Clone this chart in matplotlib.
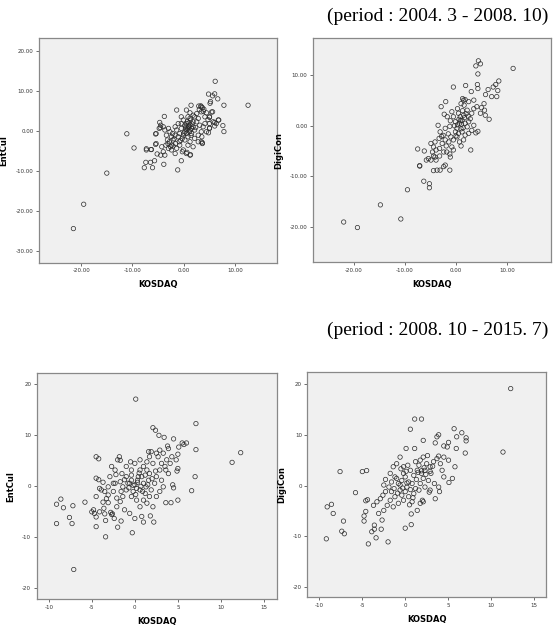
import numpy as np
import matplotlib
matplotlib.use('Agg')
import matplotlib.pyplot as plt
from matplotlib.ticker import FormatStrFormatter

# (KOSDAQ, EntCul) 2004.3 - 2008.10
p1_pts = [(-21.5, -24.5), (-19.5, -18.4), (-15.0, -10.6), (-11.1, -0.75), (-9.7, -4.3),
          (-7.3, -4.5), (-7.3, -4.8), (-7.7, -9.25), (-7.4, -7.9), (-6.5, -7.9), (-6.1, -9.25),
          (-5.7, -7.5), (-5.5, -3.4), (-5.5, -0.8), (-6.4, -4.7), (-4.7, 2.1), (-4.6, 0.8),
          (-3.8, 3.6), (-3.9, -8.4), (-5.2, -5.8), (-1.2, -9.8), (-0.5, -7.5), (-1.4, 5.2),
          (1.4, 6.4), (6.1, 12.4), (6.0, 9.25), (4.8, 9.2), (6.6, 8.0), (5.2, 7.3), (5.6, 8.75),
          (5.1, 6.9), (12.5, 6.4), (7.8, 6.4), (7.6, 1.3), (7.8, -0.2), (6.7, 2.7), (6.0, 2.1),
          (5.4, 4.7), (5.0, 3.4), (3.8, 4.9), (2.9, 6.2), (3.4, 6.0), (5.0, 0.7), (4.8, -0.5),
          (3.5, -1.5), (3.6, -3.0), (1.3, -6.0), (0.6, -5.4), (-0.3, -5.25),
          (3.3, 6.25), (3.6, 5.8), (3.0, 5.3), (3.4, 4.75), (3.9, 5.4), (4.4, 4.5), (5.6, 4.75),
          (5.0, 3.5), (4.7, 2.8), (5.7, 2.25), (6.3, 1.8), (6.8, 2.7), (6.0, 1.2), (5.0, 0.6),
          (4.4, -0.25), (0.5, 5.2), (1.2, 4.5), (1.8, 3.9), (0.8, 3.5), (-0.1, 2.7), (-0.5, 1.8),
          (0.5, 1.8), (1.2, 1.4), (1.8, 1.0), (2.5, 2.25), (2.8, 3.1), (2.1, 0.2), (1.5, -0.7),
          (0.8, -1.5), (0.2, -2.3), (1.2, -2.75), (2.1, -1.9), (2.8, -1.1), (3.4, -0.25),
          (3.75, 1.0), (3.1, 1.4), (1.8, 2.25), (1.2, 3.1), (-4.5, 1.4), (-4.0, 1.0), (-4.8, 0.6),
          (-3.7, 0.2), (-3.0, 0.6), (-2.7, -0.25), (-3.4, -1.1), (-2.4, -1.5), (-2.1, -2.3),
          (-2.8, -2.75), (-3.5, -3.6), (-4.3, -4.0), (-4.0, -5.25), (-4.5, -6.1), (-3.7, -6.1),
          (-5.4, -0.7), (-5.4, -3.2), (-6.3, -4.7), (-1.7, -5.7), (-1.4, -4.4), (-0.8, -3.6),
          (-2.1, -3.8), (-2.4, -4.8), (0.5, -5.7), (1.2, -6.1), (-0.1, -4.8),
          (-0.8, -0.7), (-0.5, 0.6), (0.2, -0.25), (0.8, 0.6), (-1.4, 0.2), (-1.1, -1.5),
          (-0.1, -1.1), (0.5, -0.7), (-1.7, -1.1), (0.8, -3.6), (1.8, -4.0), (2.8, -2.75),
          (3.4, -2.75), (3.6, -3.2), (0.2, 1.4), (1.0, 2.0), (0.4, 1.0), (0.6, 0.2), (1.2, 0.2),
          (1.5, 0.6), (1.0, 1.2), (1.3, 2.7), (-0.3, -1.9), (-0.9, -2.75), (-1.6, -3.2),
          (-2.4, -3.6), (-3.0, -4.4), (-2.6, -4.0), (-3.2, -2.3), (-1.7, 1.0), (-1.1, 1.8),
          (-0.5, 3.5), (2.1, 3.5), (2.5, 4.3), (4.1, 3.5), (4.1, 1.8), (5.0, 1.8),
          (0.9, 0.9), (1.1, -0.2), (0.7, 2.3), (1.6, 1.7), (0.3, 0.5), (1.4, -1.2), (0.0, -0.6),
          (2.3, 0.8), (-0.6, -2.4), (-1.9, -2.0), (-2.2, -0.7), (-3.1, -3.2)]

# (KOSDAQ, DigiCon) 2004.3 - 2008.10
p2_pts = [(-22.0, -19.1), (-19.3, -20.2), (-14.8, -15.7), (-10.8, -18.5), (-9.5, -12.7),
          (-7.5, -4.6), (-7.1, -7.9), (-7.1, -8.0), (-6.2, -5.0), (-6.3, -11.0), (-5.2, -11.5),
          (-5.2, -12.3), (-4.4, -6.0), (-3.5, 0.1), (-2.0, 4.8), (-0.5, 7.7), (1.9, 8.0),
          (2.9, -4.8), (3.9, 11.9), (4.4, 12.9), (4.8, 12.3), (4.3, 10.3), (4.2, 8.2), (4.3, 7.4),
          (11.2, 11.4), (8.4, 8.9), (8.2, 7.0), (8.0, 5.8), (7.0, 5.8), (7.8, 8.2), (7.3, 7.7),
          (6.3, 7.2), (5.8, 6.2), (5.5, 4.4), (5.0, 3.6), (5.6, 3.1), (5.75, 2.1), (6.5, 1.3),
          (4.3, -1.1), (3.9, -1.4), (2.8, 1.4), (1.3, 5.4), (1.8, 5.2), (1.6, 4.1), (3.0, 6.8),
          (3.5, 5.1), (0.3, 3.4), (1.0, 4.4), (-2.9, 3.8), (-2.3, 2.3),
          (-1.7, 1.8), (-1.1, 1.0), (-1.2, -0.1), (-2.1, -0.5), (-3.1, -1.2), (-2.5, -1.9),
          (-3.3, -2.5), (-4.1, -3.2), (-4.4, -4.2), (-3.9, -4.8), (-4.9, -3.5), (-4.6, -5.2),
          (-4.1, -6.2), (-3.9, -6.8), (-3.2, -6.0), (-2.4, -5.2), (-1.9, -4.0), (-1.4, -3.2),
          (-1.0, -2.2), (-0.5, -2.8), (0.2, -2.2), (0.7, -3.2), (1.0, -4.0), (-0.8, -4.2),
          (-1.2, -5.6), (-1.8, -5.2),
          (0.5, 2.5), (0.85, 1.8), (1.2, 1.1), (1.5, 2.1), (1.8, 0.5), (2.2, -0.2), (2.5, 0.8),
          (0.7, 0.5), (0.2, -0.5), (-0.1, -1.2), (1.2, -1.2), (1.8, -1.85), (2.5, -1.5),
          (3.1, -0.9), (3.5, 0.1), (3.1, 2.5), (3.5, 3.4), (4.1, 3.8), (4.8, 2.5), (-0.5, 1.8),
          (-0.8, 2.8), (-0.1, 0.8), (0.5, -1.5), (1.5, -2.8), (2.2, 3.1), (1.5, 5.1), (2.5, 4.8),
          (-2.1, -2.8), (-2.7, -3.5), (-3.2, -4.5), (-5.4, -6.5), (-5.8, -6.8), (-4.9, -6.8),
          (-3.7, -8.8), (-4.4, -8.9), (-2.4, -8.1), (-1.1, -6.2), (-0.5, -4.8), (-1.2, -8.8),
          (-2.1, -7.8), (-3.1, -8.8),
          (0.9, 1.0), (1.1, 0.3), (1.4, -0.4), (0.6, 1.3), (1.0, -0.6), (0.3, 0.2), (1.7, 1.6),
          (2.0, 2.4), (-0.3, 0.0), (0.0, -2.0), (1.3, 3.0), (2.4, 1.9), (-1.5, -1.6), (-2.8, -2.1)]

# (KOSDAQ, EntCul) 2008.10 - 2015.7
p3_pts = [(0.1, 17.1), (-9.1, -3.5), (-8.6, -2.5), (-8.3, -4.2), (-9.1, -7.3), (-7.6, -6.1),
          (-7.2, -3.8), (-7.3, -7.3), (-7.1, -16.3), (-5.8, -3.1), (-3.4, -9.9), (-0.3, -9.1),
          (7.1, 12.3), (7.1, 7.2), (7.0, 1.9), (6.6, -0.85), (5.0, -2.7), (4.2, -3.2), (3.6, -3.2),
          (11.3, 4.7), (12.3, 6.6), (2.1, 11.5), (2.4, 11.0), (2.8, 10.0), (3.4, 9.6), (4.5, 9.3),
          (3.8, 7.9), (3.9, 7.4), (5.1, 7.7), (5.5, 8.5), (5.7, 8.2), (6.0, 8.5), (4.8, 5.2),
          (5.0, 6.3), (4.4, 0.3), (4.5, -0.3), (5.0, 3.5), (4.9, 3.0),
          (-4.5, 5.8), (-4.2, 5.4), (-4.5, 1.6), (-4.2, 1.3), (-3.7, 0.8), (-4.8, -4.6),
          (-4.7, -5.3), (-4.5, -6.0), (-4.5, -7.9), (-4.1, -5.0), (-5.0, -5.0), (-3.7, -3.1),
          (-3.1, -3.2), (-3.6, -4.3), (-3.5, -5.4), (-3.4, -6.7), (-2.8, -5.1), (-2.6, -5.4),
          (-2.7, -5.5), (-2.4, -6.3), (-1.6, -6.8), (-2.0, -8.0), (-3.9, -0.7), (-3.5, -1.0),
          (-3.1, -0.1), (-2.3, 0.6), (-1.7, 0.9), (-2.2, 2.3), (-1.8, 5.8), (-1.7, 5.1),
          (-2.0, 5.2), (-1.5, 2.5), (-1.0, 3.9), (-0.5, 4.8), (-0.6, 0.6), (-1.0, -0.7),
          (-1.4, -2.0), (-1.7, -3.0), (-2.1, -4.0), (-1.2, -4.6), (-0.6, -5.3), (0.8, -5.9),
          (1.0, -7.0), (1.0, -2.7), (0.6, -4.0), (1.4, -3.3), (2.1, -4.0), (1.8, -5.8),
          (2.2, -7.0), (0.0, -6.3),
          (-1.0, 1.9), (-0.4, 1.2), (0.0, 0.3), (0.2, -0.4), (-0.2, -1.0), (0.4, 1.9), (0.6, 3.2),
          (1.0, 3.9), (1.4, 3.2), (1.7, 2.5), (1.6, 1.2), (1.0, 0.6), (0.6, -0.7), (1.2, -1.4),
          (1.9, -0.7), (2.3, 0.6), (2.5, 1.9), (2.9, 3.2), (3.1, 4.5), (3.5, 3.9), (3.9, 2.5),
          (3.7, 5.2), (2.7, 5.8), (1.7, 5.8), (1.4, 4.8), (0.6, 5.2), (0.0, 4.5), (-0.4, 3.2),
          (-0.8, 0.6), (-1.4, -0.1), (-1.6, -1.0), (-0.4, -2.0), (0.2, -2.7), (1.7, -2.0),
          (2.5, -2.0), (2.9, -1.0), (3.3, -0.1), (3.1, 1.2), (2.1, 4.5), (2.5, 6.5), (1.9, 6.8),
          (1.6, 6.8), (2.9, 7.1), (3.3, 6.5), (4.1, 4.5), (4.3, 5.8), (-0.4, 2.2), (0.3, 1.2),
          (0.8, 1.9), (1.3, -0.1), (-2.5, 0.6), (-2.5, -1.0), (-3.1, -1.7), (-2.1, -2.3),
          (-2.9, 1.9), (-2.3, 3.2), (-2.7, 3.9), (-4.1, -0.4), (-4.5, -2.0),
          (0.3, 0.8), (0.7, 0.0), (-0.2, 0.2), (0.5, 2.6), (1.2, 2.2), (0.9, -1.0), (-0.7, -0.3),
          (1.5, 0.3), (2.0, 1.5), (-1.2, 1.3), (0.1, -1.6), (2.4, 3.0), (3.6, 3.2), (-3.3, -2.4)]

# (KOSDAQ, DigiCon) 2008.10 - 2015.7
p4_pts = [(12.3, 19.1), (11.4, 6.6), (-9.1, -4.2), (-8.6, -3.7), (-8.4, -5.5), (-9.2, -10.5),
          (-7.6, 2.75), (-7.2, -7.0), (-7.4, -9.0), (-7.1, -9.5), (-5.8, -1.4), (-5.0, 2.75),
          (-4.5, 2.95), (-4.6, -3.0), (-4.4, -2.8), (-4.8, -6.0), (-4.6, -5.1), (-4.8, -7.0),
          (-4.3, -11.5), (-3.9, -9.1), (-3.6, -7.8), (-3.6, -8.6), (-3.4, -10.3), (-2.0, -11.1),
          (-2.8, -8.6), (-2.7, -6.8), (0.0, -8.4), (0.7, -7.7), (0.1, 7.3), (0.6, 11.1),
          (1.1, 13.1), (1.9, 13.1), (1.1, 7.3), (2.1, 8.9), (3.9, 10.0), (5.7, 11.2), (6.0, 9.6),
          (6.6, 10.4), (7.1, 9.4), (7.1, 8.8), (7.0, 6.4), (5.95, 7.3), (5.8, 3.7), (5.5, 1.4),
          (5.1, 0.6), (5.05, 5.0), (4.5, 7.8), (4.9, 7.6), (5.05, 8.5), (3.7, 9.6), (3.5, 8.4),
          (2.6, 5.9), (3.9, 5.8), (3.2, 3.8), (3.0, 2.4), (2.9, 2.8), (3.4, 0.4), (3.9, -0.3),
          (4.0, -1.2), (3.5, -2.6), (2.8, -1.3), (2.1, -3.2), (2.0, -2.9), (0.7, -5.6), (0.5, -3.8),
          (-0.6, 0.1),
          (-1.2, 1.7), (-1.6, 0.7), (-1.9, -0.3), (-2.3, -1.2), (-2.6, -1.9), (-2.9, -2.6),
          (-3.3, -3.2), (-3.7, -3.9), (-2.5, 0.1), (-2.3, 1.2), (-1.75, 2.4), (-1.4, 3.7),
          (-1.0, 4.3), (-0.5, 3.3), (-0.2, 2.4), (-0.4, 1.0), (-0.8, 0.4), (-0.6, -0.9),
          (-0.4, -1.9), (0.0, -1.2), (0.2, -0.3), (0.4, 0.7), (0.0, 1.7), (0.4, -2.2), (0.8, -3.2),
          (1.0, -1.6), (1.2, -0.6), (0.8, 0.4), (1.0, 2.0), (1.4, 3.0), (1.6, 4.0), (1.2, 4.7),
          (1.75, 5.0), (2.1, 5.6), (2.5, 4.3), (2.3, 3.0), (1.9, 2.4), (2.1, 1.4), (1.75, 0.4),
          (1.6, -0.9), (2.3, -0.3), (2.7, 1.0), (2.9, 3.7), (3.3, 4.7), (3.7, 5.3), (4.1, 4.3),
          (4.5, 5.6), (4.3, 3.0), (4.5, 1.7), (-1.6, -1.2), (-1.2, -2.2), (-1.75, -2.9),
          (-2.1, -3.9), (-2.5, -4.9), (-3.1, -5.5), (-1.4, -4.2), (-0.8, -3.5), (-0.2, -2.9),
          (1.4, -4.9), (1.75, -3.5), (2.9, -0.9), (0.6, 3.0), (0.3, 4.0), (-0.6, 5.6),
          (-1.0, 1.4), (-0.2, 3.7),
          (0.2, 0.5), (-0.3, -0.5), (0.6, -0.8), (1.3, 1.2), (1.9, 2.9), (2.4, 2.2), (-0.9, -1.5),
          (0.1, 2.8), (1.5, 2.6), (2.2, 3.5), (-1.3, -0.6), (0.9, -2.4)]

period_labels = ['(period : 2004. 3 - 2008. 10)', '(period : 2008. 10 - 2015. 7)']

fig = plt.figure(figsize=(5.57, 6.26), dpi=100)

panels = [
    # pts, ylabel, rect, xlim, ylim, xticks, yticks, fmt
    (p1_pts, 'EntCul', [0.070, 0.580, 0.427, 0.359], (-28.2, 18.1), (-33.1, 23.2),
     [-20, -10, 0, 10], [-30, -20, -10, 0, 10, 20], '%.2f'),
    (p2_pts, 'DigiCon', [0.562, 0.581, 0.427, 0.358], (-28.0, 18.6), (-27.1, 17.4),
     [-20, -10, 0, 10], [-20, -10, 0, 10], '%.2f'),
    (p3_pts, 'EntCul', [0.066, 0.043, 0.431, 0.361], (-11.4, 16.5), (-22.1, 22.2),
     [-10, -5, 0, 5, 10, 15], [-20, -10, 0, 10, 20], '%d'),
    (p4_pts, 'DigiCon', [0.552, 0.046, 0.428, 0.360], (-11.4, 16.4), (-22.0, 22.4),
     [-10, -5, 0, 5, 10, 15], [-20, -10, 0, 10, 20], '%d'),
]

for pts, ylab, rect, xl, yl, xt, yt, fmt in panels:
    xy = np.array(pts)
    ax = fig.add_axes(rect)
    ax.set_facecolor('#f0f0f0')
    ax.scatter(xy[:, 0], xy[:, 1], s=10, facecolors='none', edgecolors='#2a2a2a',
               linewidths=0.5)
    ax.set_xlim(xl)
    ax.set_ylim(yl)
    ax.set_xticks(xt)
    ax.set_yticks(yt)
    ax.xaxis.set_major_formatter(FormatStrFormatter(fmt))
    ax.yaxis.set_major_formatter(FormatStrFormatter(fmt))
    ax.tick_params(labelsize=4, length=2.5, width=0.6, color='#555555', pad=1.5,
                   labelcolor='#333333')
    for sp in ax.spines.values():
        sp.set_color('#888888')
        sp.set_linewidth(0.9)
    ax.set_xlabel('KOSDAQ', fontsize=6, fontweight='bold', labelpad=5)
    ax.set_ylabel(ylab, fontsize=6, fontweight='bold', labelpad=5)

fig.text(0.984, 1 - 16 / 626, period_labels[0], ha='right', va='center',
         family='Liberation Serif', fontsize=14)
fig.text(0.984, 1 - 330 / 626, period_labels[1], ha='right', va='center',
         family='Liberation Serif', fontsize=14)

plt.savefig('out.png', dpi=100)
